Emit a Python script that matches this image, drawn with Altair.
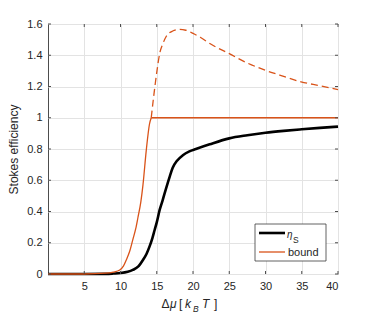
import altair as alt
import pandas as pd

# eta_S (black)
eta_x = [0, 5, 8, 9, 10, 11, 11.7, 12.5, 13.1, 13.6, 14.0, 14.4, 14.7, 15.0, 15.4, 15.8,
         16.3, 16.8, 17.2, 17.8, 18.6, 19.5, 20.4, 22.3, 25, 27.5, 30, 32.5, 35, 37.5, 40]
eta_y = [0, 0, 0.001, 0.003, 0.006, 0.014, 0.026, 0.05, 0.09, 0.13, 0.175, 0.23, 0.28, 0.33,
         0.41, 0.47, 0.55, 0.625, 0.68, 0.725, 0.76, 0.785, 0.80, 0.83, 0.868, 0.888, 0.904,
         0.916, 0.926, 0.935, 0.943]

# bound (orange solid, capped at 1)
bound_x = [0, 5, 8, 9, 9.9, 10.4, 10.8, 11.3, 11.7, 12.1, 12.4, 12.8, 13.1, 13.55, 14.0, 14.24]
bound_y = [0, 0, 0.005, 0.012, 0.026, 0.05, 0.09, 0.15, 0.22, 0.29, 0.36, 0.46, 0.57, 0.79,
           0.96, 1.0]
cap_x = [14.24, 40]
cap_y = [1.0, 1.0]

# uncapped continuation (orange dashed)
dash_x = [14.24, 14.56, 15.0, 15.4, 15.9, 16.3, 17.2, 18.1, 19, 20, 21, 22.5, 25, 27.5,
          29.85, 32.5, 34.9, 37.5, 40]
dash_y = [1.0, 1.13, 1.29, 1.41, 1.48, 1.52, 1.555, 1.565, 1.56, 1.54, 1.515, 1.47, 1.41,
          1.35, 1.306, 1.265, 1.23, 1.205, 1.18]

x_ticks = [5, 10, 15, 20, 25, 30, 35, 40]
y_ticks = [0, 0.2, 0.4, 0.6, 0.8, 1, 1.2, 1.4, 1.6]

W, H = 290, 250
ORANGE = "#D95319"
FONT = "Liberation Sans"
AX = "#4d4d4d"

xs = alt.Scale(domain=[0, 40], nice=False, zero=False)
ys = alt.Scale(domain=[0, 1.6], nice=False)

xaxis = alt.Axis(values=x_ticks, title=None, grid=True, domain=False, ticks=True, tickSize=0,
                 labelPadding=6, labelFont=FONT, labelFontSize=11, labelColor="#262626",
                 gridColor="#e3e3e3", labelOverlap=False)
yaxis = alt.Axis(values=y_ticks, title="Stokes efficiency", grid=True, domain=False, ticks=True,
                 tickSize=0, labelPadding=6, labelFont=FONT, labelFontSize=11, format="~g",
                 labelOverlap=False,
                 labelColor="#262626", gridColor="#e3e3e3", titleFont=FONT, titleFontSize=12,
                 titleFontWeight="normal", titleColor="#262626", titlePadding=6)


def X(f):
    return alt.X(f, scale=xs, axis=xaxis)


def Y(f):
    return alt.Y(f, scale=ys, axis=yaxis)


df_eta = pd.DataFrame({"x": eta_x, "y": eta_y})
df_bound = pd.DataFrame({"x": bound_x, "y": bound_y})
df_cap = pd.DataFrame({"x": cap_x, "y": cap_y})
df_dash = pd.DataFrame({"x": dash_x, "y": dash_y})

eta = alt.Chart(df_eta).mark_line(color="black", strokeWidth=2.6, clip=False,
                                  interpolate="monotone").encode(x=X("x:Q"), y=Y("y:Q"))
bound = alt.Chart(df_bound).mark_line(color=ORANGE, strokeWidth=1.3, clip=False,
                                      interpolate="monotone").encode(x=X("x:Q"), y=Y("y:Q"))
cap = alt.Chart(df_cap).mark_line(color=ORANGE, strokeWidth=1.3).encode(x=X("x:Q"), y=Y("y:Q"))
dash = alt.Chart(df_dash).mark_line(color=ORANGE, strokeWidth=1.3, strokeDash=[7, 4],
                                    interpolate="monotone").encode(x=X("x:Q"), y=Y("y:Q"))

# inward ticks on all four sides
dfx = pd.DataFrame({"x": x_ticks})
dfy = pd.DataFrame({"y": y_ticks})
tx_top = alt.Chart(dfx).mark_rule(color=AX, strokeWidth=1).encode(
    x=X("x:Q"), y=alt.value(0), y2=alt.value(3))
tx_bot = alt.Chart(dfx).mark_rule(color=AX, strokeWidth=1).encode(
    x=X("x:Q"), y=alt.value(H), y2=alt.value(H - 3))
ty_left = alt.Chart(dfy).mark_rule(color=AX, strokeWidth=1).encode(
    y=Y("y:Q"), x=alt.value(0), x2=alt.value(3))
ty_right = alt.Chart(dfy).mark_rule(color=AX, strokeWidth=1).encode(
    y=Y("y:Q"), x=alt.value(W), x2=alt.value(W - 3))

one = pd.DataFrame({"a": [0]})


def txt(s, x, y, size=12, style="normal", align="left"):
    return alt.Chart(one).mark_text(text=s, font=FONT, fontSize=size, fontStyle=style,
                                    color="#262626", align=align, baseline="alphabetic").encode(
        x=alt.value(x), y=alt.value(y))


# x-axis title: Δμ [ k_B T]
xt = [
    txt("Δ", 113.5, 284),
    txt("μ", 122, 284, style="italic"),
    txt("[", 131, 284),
    txt("k", 137, 284, style="italic"),
    txt("B", 145, 288, size=8.5, style="italic"),
    txt("T", 154, 284, style="italic"),
    txt("]", 166, 284),
]

# legend
leg_box = alt.Chart(one).mark_rect(fill="white", stroke="#3a3a3a", strokeWidth=0.8).encode(
    x=alt.value(207), x2=alt.value(278), y=alt.value(200), y2=alt.value(237))
leg_l1 = alt.Chart(one).mark_rule(color="black", strokeWidth=2.6).encode(
    x=alt.value(211), x2=alt.value(237), y=alt.value(209))
leg_l2 = alt.Chart(one).mark_rule(color=ORANGE, strokeWidth=1.3).encode(
    x=alt.value(211), x2=alt.value(237), y=alt.value(228))
leg_t = [
    txt("η", 239, 214, size=10, style="italic"),
    txt("S", 245, 219, size=8.5),
    txt("bound", 240, 232, size=11),
]

chart = alt.layer(eta, bound, cap, dash, tx_top, tx_bot, ty_left, ty_right, *xt,
                  leg_box, leg_l1, leg_l2, *leg_t).properties(
    width=W, height=H,
    autosize=alt.AutoSizeParams(type="none"),
    padding={"left": 40, "top": 16, "right": 20, "bottom": 40},
).configure_view(stroke=AX, strokeWidth=1).configure_axis(labelFont=FONT)

chart.save("out.html", embed_options={"renderer": "svg", "actions": False})
